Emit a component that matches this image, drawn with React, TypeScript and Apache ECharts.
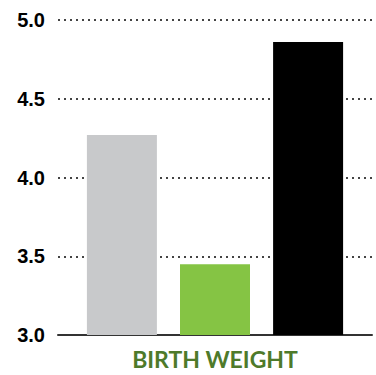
import React, { useEffect, useRef } from "react";
import * as echarts from "echarts";

const categories = ["BIRTH WEIGHT"];
const seriesNames = ["Group A", "Group B", "Group C"];
const seriesColors = ["#c8c9cb", "#85c444", "#000000"];
const seriesValues = [[4.27], [3.45], [4.86]];
const yTicks = { min: 3.0, max: 5.0, interval: 0.5 };

export default function App() {
  const ref = useRef<HTMLDivElement>(null);
  useEffect(() => {
    if (!ref.current) return;
    const chart = echarts.init(ref.current, undefined, { renderer: "svg" });
    chart.setOption({
      animation: false,
      grid: { left: 58, right: 4, top: 20, bottom: 40, containLabel: false },
      xAxis: {
        type: "category",
        data: categories,
        axisLine: { show: true, lineStyle: { color: "#333333", width: 2 } },
        axisTick: { show: false },
        axisLabel: {
          color: "#4e7a2a",
          fontFamily: "Lato",
          fontWeight: "bold",
          fontSize: 23,
          margin: 12,
        },
      },
      yAxis: {
        type: "value",
        min: yTicks.min,
        max: yTicks.max,
        interval: yTicks.interval,
        axisLine: { show: false },
        axisTick: { show: false },
        axisLabel: {
          color: "#000000",
          fontFamily: "Liberation Sans",
          fontWeight: "bold",
          fontSize: 20,
          margin: 13,
          padding: [6, 0, 0, 0],
          formatter: (v: number) => v.toFixed(1),
        },
        splitLine: {
          show: true,
          lineStyle: { color: "#444444", width: 2, type: [2, 4] },
        },
      },
      series: seriesNames.map((name, i) => ({
        name,
        type: "bar",
        data: seriesValues[i],
        barWidth: 70,
        barGap: "33%",
        itemStyle: { color: seriesColors[i] },
      })),
    });
    return () => chart.dispose();
  }, []);
  return <div ref={ref} style={{ width: 376, height: 375, position: "absolute", left: 0, top: 0 }} />;
}
